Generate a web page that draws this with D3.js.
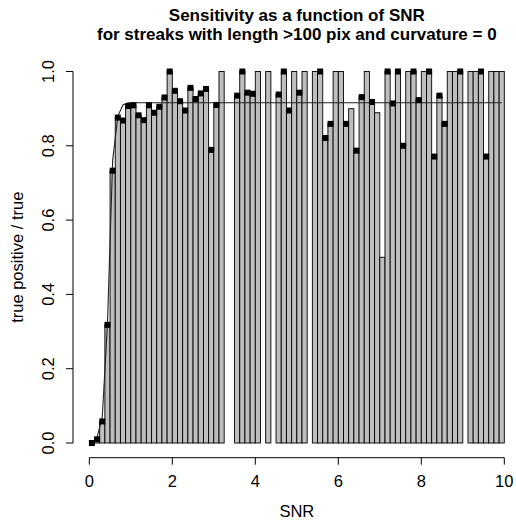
<!DOCTYPE html>
<html>
<head>
<meta charset="utf-8">
<script src="https://cdn.jsdelivr.net/npm/d3@7"></script>
<style>
  body { margin: 0; background: #fff; }
  text { font-family: "Liberation Sans", Arial, Helvetica, sans-serif; }
</style>
</head>
<body>
<div id="chart1"></div>
<script>
// bins of 0.125 SNR, left edges 0 .. 9.875
var binWidth = 0.125;
// bar heights (null = no bar in that bin)
var barValues = [
  0.0, 0.01, 0.058, 0.318, 0.733, 0.876, 0.868, 0.907, 0.909, 0.882,
  0.869, 0.909, 0.889, 0.905, 0.93, 1.0, 0.948, 0.92, 0.895, 0.956,
  0.926, 0.941, 0.953, 0.789, 0.91, 1.0, null, null, 0.935, 1.0,
  0.943, 0.94, 1.0, null, 1.0, null, 0.938, 1.0, 0.895, 1.0,
  0.943, 1.0, null, 1.0, 1.0, 0.821, 0.859, 1.0, 1.0, 0.859,
  0.9, 0.787, 0.931, 1.0, 0.918, 0.889, 0.5, 1.0, 0.914, 1.0,
  0.8, 1.0, 1.0, 0.923, 1.0, 1.0, 0.771, 0.935, 0.859, 1.0,
  1.0, 1.0, null, 1.0, 1.0, 1.0, 0.771, 1.0, 1.0, 1.0
];
// black square markers (null = no marker)
var pointValues = [
  0.0, 0.01, 0.058, 0.318, 0.733, 0.876, 0.868, 0.907, 0.909, 0.882,
  0.869, 0.909, 0.889, 0.905, 0.93, 1.0, 0.948, 0.92, 0.895, 0.956,
  0.926, 0.941, 0.953, 0.789, 0.91, null, null, null, 0.935, 1.0,
  0.943, 0.94, null, null, null, null, 0.938, 1.0, 0.895, null,
  0.943, null, null, null, 1.0, 0.821, 0.859, null, null, 0.859,
  null, 0.787, 0.931, null, 0.918, null, null, 1.0, 0.914, 1.0,
  0.8, null, 1.0, 0.923, null, 1.0, 0.771, 0.935, 0.859, null,
  null, 1.0, null, null, null, 1.0, 0.771, null, null, null
];
// fitted curve
var fitX = [0.0625, 0.1875, 0.3125, 0.4375, 0.5625, 0.6875, 0.8125, 0.9375, 9.9375];
var fitY = [0.0, 0.015, 0.07, 0.32, 0.76, 0.88, 0.91, 0.916, 0.916];

var xTicks = [0, 2, 4, 6, 8, 10];
var yTicks = [0, 0.2, 0.4, 0.6, 0.8, 1.0];
var titleLines = ["Sensitivity as a function of SNR", "for streaks with length >100 pix and curvature = 0"];
var xLabel = "SNR";
var yLabel = "true positive / true";

class sensitivityChart {
  constructor(parent1){
    this.parent1 = parent1;
    this.width1 = 516;
    this.height1 = 521;
    this.x = d3.scaleLinear().domain([0, 10]).range([89.3, 504.3]);
    this.y = d3.scaleLinear().domain([0, 1]).range([443, 71.5]);
    this.draw1();
  }

  draw1(){
    var x = this.x, y = this.y;
    this.svg1 = this.parent1.append("svg")
                .attr("width", this.width1)
                .attr("height", this.height1);

    var bars = barValues.map((v, i) => ({i: i, v: v})).filter(d => d.v != null);
    this.svg1.append("g").selectAll("rect")
      .data(bars).enter().append("rect")
      .attr("x", d => x(d.i * binWidth))
      .attr("y", d => y(d.v))
      .attr("width", d => x((d.i + 1) * binWidth) - x(d.i * binWidth))
      .attr("height", d => y(0) - y(d.v))
      .style("fill", "#bebebe")
      .style("stroke", "#000")
      .style("stroke-width", 0.9);

    var line1 = d3.line().x(d => x(d[0])).y(d => y(d[1]));
    this.svg1.append("path")
      .datum(fitX.map((fx, k) => [fx, fitY[k]]))
      .attr("d", line1)
      .style("fill", "none")
      .style("stroke", "#222")
      .style("stroke-width", 1.1);

    var pts = pointValues.map((v, i) => ({i: i, v: v})).filter(d => d.v != null);
    this.svg1.append("g").selectAll("rect")
      .data(pts).enter().append("rect")
      .attr("x", d => x((d.i + 0.5) * binWidth) - 3)
      .attr("y", d => y(d.v) - 3)
      .attr("width", 6)
      .attr("height", 6)
      .style("fill", "#000");

    // x axis (R style, detached)
    var xa = this.svg1.append("g").attr("transform", "translate(0,457.7)");
    xa.append("line").attr("x1", x(0)).attr("x2", x(10))
      .style("stroke", "#000");
    xTicks.forEach(t => {
      xa.append("line").attr("x1", x(t)).attr("x2", x(t)).attr("y1", 0).attr("y2", 7)
        .style("stroke", "#000");
      xa.append("text").attr("x", x(t)).attr("y", 29)
        .attr("text-anchor", "middle").style("font-size", "16.5px").text(t);
    });

    // y axis
    var ya = this.svg1.append("g").attr("transform", "translate(73,0)");
    ya.append("line").attr("y1", y(0)).attr("y2", y(1))
      .style("stroke", "#000");
    yTicks.forEach(t => {
      ya.append("line").attr("x1", 0).attr("x2", -7).attr("y1", y(t)).attr("y2", y(t))
        .style("stroke", "#000");
      ya.append("text")
        .attr("transform", "translate(-19," + y(t) + ") rotate(-90)")
        .attr("text-anchor", "middle").style("font-size", "16.5px")
        .text(d3.format(".1f")(t));
    });

    this.svg1.append("text").attr("x", x(5)).attr("y", 517)
      .attr("text-anchor", "middle").style("font-size", "16.5px").text(xLabel);
    this.svg1.append("text")
      .attr("transform", "translate(23," + y(0.5) + ") rotate(-90)")
      .attr("text-anchor", "middle").style("font-size", "16.5px").text(yLabel);

    titleLines.forEach((s, k) => {
      this.svg1.append("text").attr("x", x(5)).attr("y", 20.5 + k * 19.8)
        .attr("text-anchor", "middle")
        .style("font-size", "17px").style("font-weight", "bold")
        .text(s);
    });
  }
}

var chart1 = new sensitivityChart(d3.select("#chart1"));
</script>
</body>
</html>
